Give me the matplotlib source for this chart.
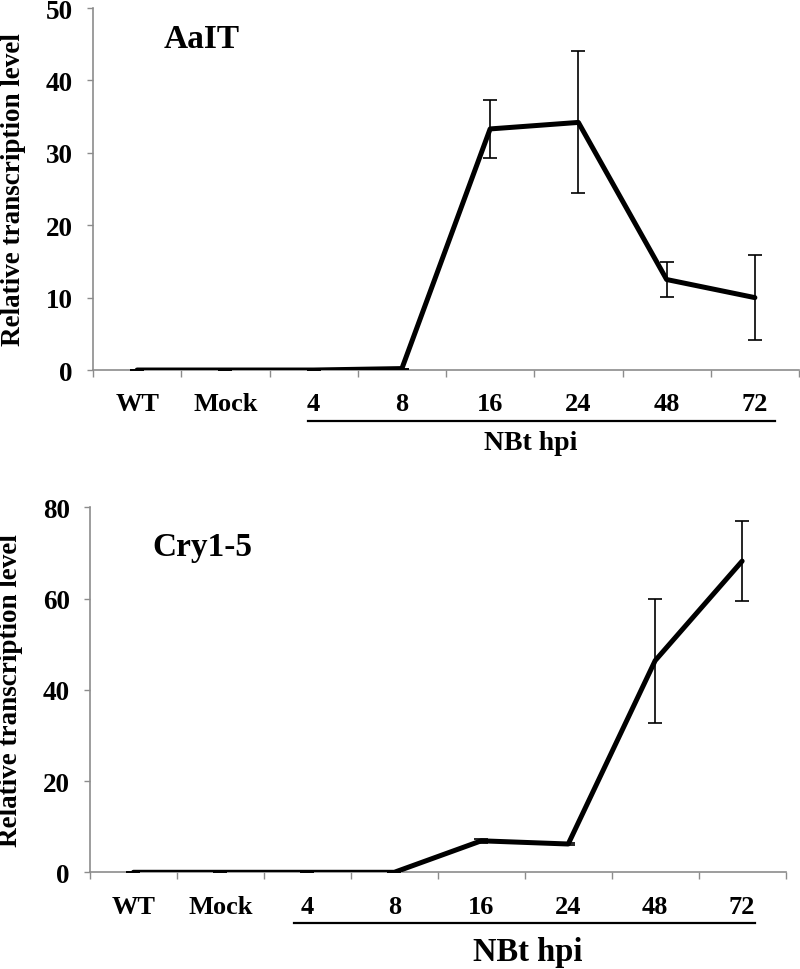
import matplotlib.pyplot as plt
import matplotlib.transforms as mtransforms
import numpy as np

plt.rcParams['font.family'] = ['Liberation Serif', 'DejaVu Serif']
plt.rcParams['font.weight'] = 'bold'

categories = ['WT', 'Mock', '4', '8', '16', '24', '48', '72']

aait_mean = [0, 0, 0, 0.2, 33.3, 34.2, 12.5, 10.0]
aait_err = [0, 0, 0, 0, 4.0, 9.8, 2.4, 5.9]

cry_mean = [0, 0, 0, 0, 6.9, 6.2, 46.4, 68.2]
cry_err = [0, 0, 0, 0, 0.5, 0.3, 13.6, 8.7]

GRAY = '#8c8c8c'


def DrawPanel(ax, mean, err, ymax, ystep, name, name_pos, hpi_size, line_y, hpi_pos, line_x):
    x = np.arange(len(categories))
    ax.errorbar(x, mean, yerr=err, color='black', lw=3.6, elinewidth=1.2,
                capsize=5, capthick=1.2, solid_capstyle='round', zorder=3)
    ax.set_xlim(-0.5, len(categories) - 0.5)
    ax.set_ylim(0, ymax)
    ax.set_yticks(np.arange(0, ymax + 1, ystep))
    ax.set_xticks(x)
    ax.set_xticklabels(categories)
    ax.set_xticks(np.arange(-0.5, len(categories)), minor=True)
    ax.tick_params(axis='x', which='major', length=0, pad=16, labelsize=19)
    ax.tick_params(axis='x', which='minor', length=5, color=GRAY, width=1)
    ax.tick_params(axis='y', length=4.5, color=GRAY, width=1, pad=10, labelsize=19.5)
    for s in ['top', 'right']:
        ax.spines[s].set_visible(False)
    for s in ['left', 'bottom']:
        ax.spines[s].set_color(GRAY)
        ax.spines[s].set_linewidth(1.2)
    ax.set_ylabel('Relative transcription level', fontsize=19.5, fontweight='bold', labelpad=14)
    ax.text(name_pos[0], name_pos[1], name, transform=ax.transAxes, fontsize=24,
            fontweight='bold', ha='left', va='center')
    trans = mtransforms.blended_transform_factory(ax.transData, ax.transAxes)
    ax.plot(line_x, [line_y, line_y], transform=trans, color='black', lw=1.6, clip_on=False)
    ax.text(hpi_pos[0], hpi_pos[1], 'NBt hpi', transform=trans, fontsize=hpi_size,
            fontweight='bold', ha='center', va='center')


fig = plt.figure(figsize=(8, 9.7), dpi=100)
ax1 = fig.add_axes([0.11625, 0.6175, 0.8825, 0.3732])
ax2 = fig.add_axes([0.1125, 0.0997, 0.8695, 0.3763])

DrawPanel(ax1, aait_mean, aait_err, 50, 10, 'AaIT', (0.1, 0.917), 20,
          -0.14, (4.46, -0.199), [1.94, 7.23])
DrawPanel(ax2, cry_mean, cry_err, 80, 20, 'Cry1-5', (0.09, 0.893), 23.5,
          -0.139, (4.53, -0.216), [1.85, 7.15])

fig.savefig('out.png', dpi=100)
